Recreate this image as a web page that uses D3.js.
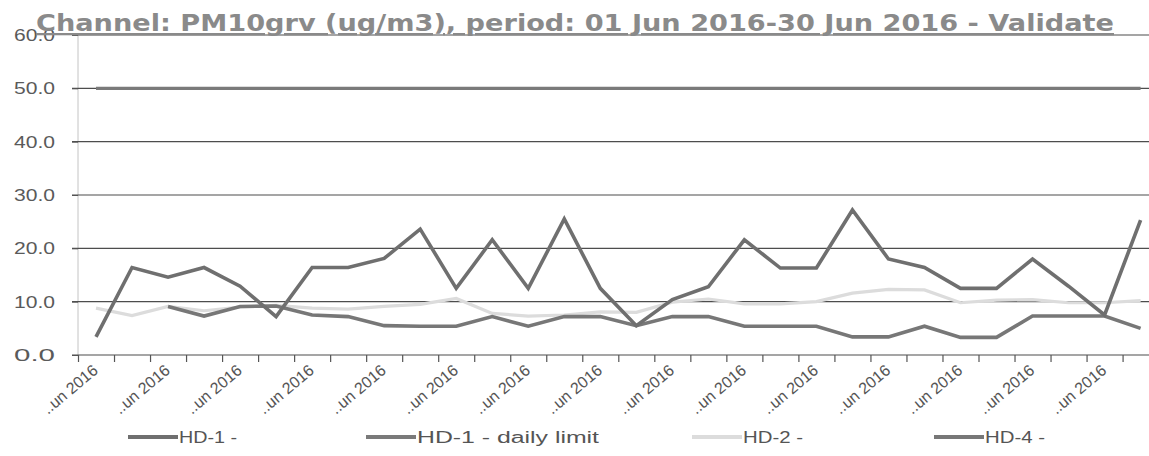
<!DOCTYPE html>
<html>
<head>
<meta charset="utf-8">
<script src="https://cdn.jsdelivr.net/npm/d3@7"></script>
<style>
  body { margin:0; background:#fff; }
  svg { display:block; }
</style>
</head>
<body>
<div id="chart"></div>
<script>
// chart values
const dates = ["01 Jun 2016","02 Jun 2016","03 Jun 2016","04 Jun 2016","05 Jun 2016",
               "06 Jun 2016","07 Jun 2016","08 Jun 2016","09 Jun 2016","10 Jun 2016",
               "11 Jun 2016","12 Jun 2016","13 Jun 2016","14 Jun 2016","15 Jun 2016",
               "16 Jun 2016","17 Jun 2016","18 Jun 2016","19 Jun 2016","20 Jun 2016",
               "21 Jun 2016","22 Jun 2016","23 Jun 2016","24 Jun 2016","25 Jun 2016",
               "26 Jun 2016","27 Jun 2016","28 Jun 2016","29 Jun 2016","30 Jun 2016"];
const hd1 = [3.4, 16.4, 14.6, 16.4, 12.9, 7.2, 16.4, 16.4, 18.1, 23.6,
             12.5, 21.6, 12.5, 25.5, 12.5, 5.5, 10.4, 12.8, 21.6, 16.3,
             16.3, 27.2, 18.0, 16.4, 12.5, 12.5, 18.0, 12.9, 7.5, 25.3];
const hd1Limit = [50, 50, 50, 50, 50, 50, 50, 50, 50, 50,
                  50, 50, 50, 50, 50, 50, 50, 50, 50, 50,
                  50, 50, 50, 50, 50, 50, 50, 50, 50, 50];
const hd2 = [8.8, 7.4, 9.1, 8.3, 9.0, 9.3, 8.8, 8.6, 9.1, 9.5,
             10.6, 7.8, 7.3, 7.5, 8.1, 8.0, 9.9, 10.5, 9.6, 9.6,
             10.0, 11.6, 12.3, 12.2, 9.8, 10.3, 10.4, 9.8, 9.8, 10.2];
const hd4 = [null, null, 9.1, 7.3, 9.1, 9.2, 7.5, 7.2, 5.5, 5.4,
             5.4, 7.2, 5.4, 7.2, 7.2, 5.5, 7.2, 7.2, 5.4, 5.4,
             5.4, 3.4, 3.4, 5.4, 3.3, 3.3, 7.3, 7.3, 7.3, 5.0];
const yTicks = [0, 10, 20, 30, 40, 50, 60];
const xLabelDates = ["01 Jun 2016","03 Jun 2016","05 Jun 2016","07 Jun 2016","09 Jun 2016",
                     "11 Jun 2016","13 Jun 2016","15 Jun 2016","17 Jun 2016","19 Jun 2016",
                     "21 Jun 2016","23 Jun 2016","25 Jun 2016","27 Jun 2016","29 Jun 2016"];
const xLabelText = "..un 2016";
const title = "Channel: PM10grv (ug/m3), period: 01 Jun 2016-30 Jun 2016 - Validate";

const series = [
  {name:"HD-1 -",             values:hd1,      color:"#6f6f6f", width:3.6},
  {name:"HD-1 - daily limit", values:hd1Limit, color:"#7a7a7a", width:3.2},
  {name:"HD-2 -",             values:hd2,      color:"#dcdcdc", width:3.2},
  {name:"HD-4 -",             values:hd4,      color:"#777777", width:3.6}
];

const width = 1149, height = 456;
const plot = {left:78, right:1158.6, top:35, bottom:355};

const svg = d3.select("#chart").append("svg")
  .attr("width", width).attr("height", height)
  .attr("viewBox", "0 0 " + width + " " + height);

const x = d3.scaleBand().domain(dates).range([plot.left, plot.right]);
const xEdge = d3.scaleLinear().domain([0, dates.length]).range([plot.left, plot.right]);
const y = d3.scaleLinear().domain([0, 60]).range([plot.bottom, plot.top]);

// faint vertical axis line
svg.append("line")
  .attr("x1", plot.left).attr("x2", plot.left)
  .attr("y1", plot.top).attr("y2", plot.bottom)
  .attr("stroke", "#c4c4c4").attr("stroke-width", 1);

// horizontal grid lines (0 is the x axis line)
svg.append("g").selectAll("line")
  .data(yTicks).join("line")
  .attr("x1", plot.left - 6).attr("x2", plot.right)
  .attr("y1", d => y(d)).attr("y2", d => y(d))
  .attr("stroke", "#4d4d4d").attr("stroke-width", 1.2);

// y axis labels
const yAxis = d3.axisLeft(y).tickValues(yTicks).tickFormat(d3.format(".1f"))
  .tickSize(6).tickPadding(17);
const gY = svg.append("g").attr("transform", "translate(" + plot.left + ",0)").call(yAxis);
gY.select(".domain").remove();
gY.selectAll(".tick line").attr("stroke", "#555");
gY.selectAll("text")
  .attr("fill", "#5a5a5a")
  .style("font-family", "'Liberation Sans', Arial, sans-serif")
  .style("font-size", "17px")
  .attr("textLength", 41).attr("lengthAdjust", "spacingAndGlyphs");

// x axis tick marks at category boundaries
const xAxis = d3.axisBottom(xEdge).tickValues(d3.range(0, dates.length + 1))
  .tickFormat("").tickSize(7);
const gX = svg.append("g").attr("transform", "translate(0," + plot.bottom + ")").call(xAxis);
gX.select(".domain").remove();
gX.selectAll(".tick line").attr("stroke", "#555").attr("stroke-width", 1.2);

// rotated x labels, every second day
svg.append("g").selectAll("text")
  .data(xLabelDates).join("text")
  .attr("transform", d => "translate(" + (x(d) + x.bandwidth() / 2 + 3) + "," + (plot.bottom + 17) + ") rotate(-40)")
  .attr("text-anchor", "end")
  .attr("fill", "#555")
  .style("font-family", "'Liberation Sans', Arial, sans-serif")
  .style("font-size", "16px")
  .text(xLabelText);

// series lines
const line = d3.line()
  .defined(d => d.v !== null)
  .x(d => x(d.date) + x.bandwidth() / 2)
  .y(d => y(d.v));

const lineOrder = [series[2], series[1], series[3], series[0]];
svg.append("g").selectAll("path")
  .data(lineOrder).join("path")
  .attr("fill", "none")
  .attr("stroke", s => s.color)
  .attr("stroke-width", s => s.width)
  .attr("stroke-linejoin", "miter")
  .attr("d", s => line(s.values.map((v, i) => ({date: dates[i], v: v}))));

// title
svg.append("text")
  .attr("x", 36).attr("y", 31)
  .attr("fill", "#8a8a8a")
  .style("font-family", "'DejaVu Sans', Verdana, sans-serif")
  .style("font-weight", "bold")
  .style("font-size", "23px")
  .style("text-decoration", "underline")
  .attr("textLength", 1078).attr("lengthAdjust", "spacingAndGlyphs")
  .text(title);

// legend
const legendX = [128, 366, 692, 934];
const legendTextLen = [58, 182, 60, 60];
const legend = svg.append("g").selectAll("g")
  .data(series).join("g")
  .attr("transform", (s, i) => "translate(" + legendX[i] + ",437)");
legend.append("line")
  .attr("x1", 0).attr("x2", 50).attr("y1", 0).attr("y2", 0)
  .attr("stroke", s => s.color).attr("stroke-width", 4);
legend.append("text")
  .attr("x", 51).attr("y", 6)
  .attr("fill", "#555")
  .style("font-family", "'Liberation Sans', Arial, sans-serif")
  .style("font-size", "16px")
  .attr("textLength", (s, i) => legendTextLen[i]).attr("lengthAdjust", "spacingAndGlyphs")
  .text(s => s.name);
</script>
</body>
</html>
